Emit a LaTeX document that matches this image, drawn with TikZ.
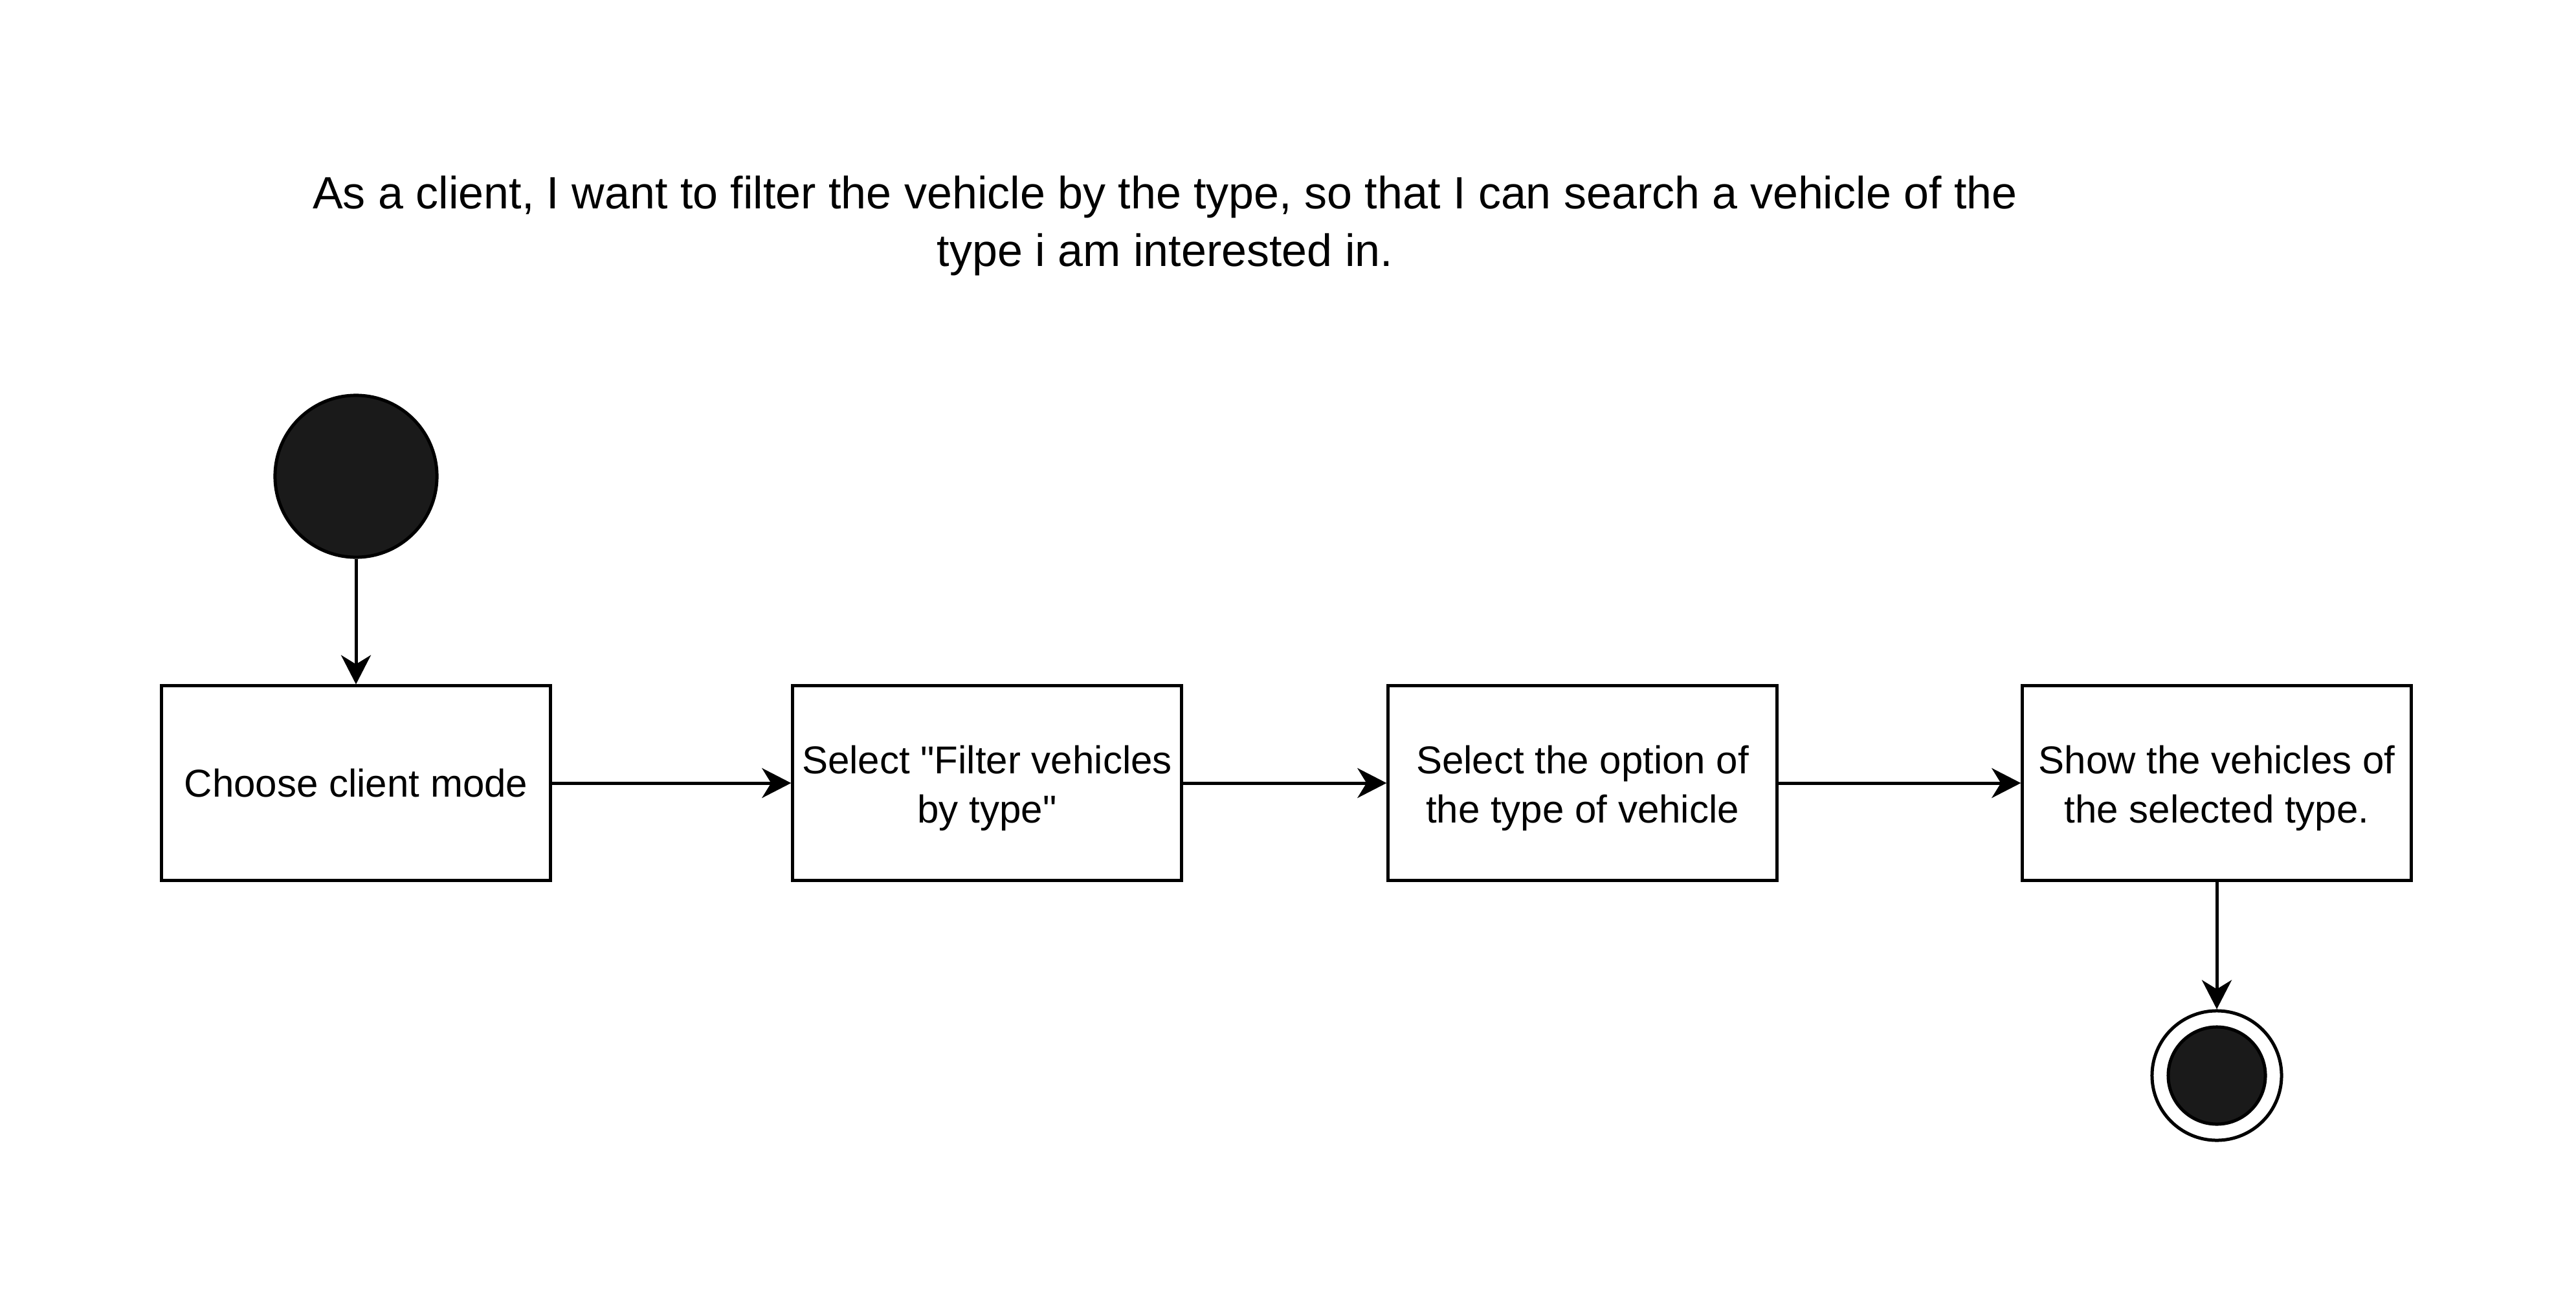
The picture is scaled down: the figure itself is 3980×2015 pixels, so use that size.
\documentclass[tikz,border=0pt]{standalone}
\usepackage{fontspec}
\setmainfont{Liberation Sans}
\usetikzlibrary{arrows.meta}
\definecolor{dotfill}{HTML}{1A1A1A}
\begin{document}
\begin{tikzpicture}[x=0.01cm,y=-0.01cm,
  actbox/.style={draw=black, line width=0.05cm, fill=white, minimum width=6cm, minimum height=3cm, inner sep=0pt, align=center, font=\fontsize{17.07}{21.6}\selectfont},
  boxtext/.style={inner sep=0pt, align=center, font=\fontsize{17.07}{21.6}\selectfont},
  arr/.style={line width=0.05cm, -{Stealth[length=0.45cm, width=0.46cm, inset=0.14cm]}},
  titletext/.style={align=center, font=\fontsize{19.9}{25.3}\selectfont}]
\useasboundingbox (0,0) rectangle (3980,2015);
\fill[white] (0,0) rectangle (3980,2015);
\node[titletext] (title) at (1800,349) {As a client, I want to filter the vehicle by the type, so that I can search a vehicle of the\\type i am interested in.};
\node[circle, draw=black, line width=0.05cm, fill=dotfill, minimum size=2.5cm, inner sep=0pt] (start) at (550,736) {};
\node[actbox] (b1) at (550,1210) {Choose client mode};
\node[actbox] (b2) at (1525,1210) {};
\node[actbox] (b3) at (2445,1210) {};
\node[actbox] (b4) at (3425,1210) {};
\node[boxtext] (t2) at ([yshift=-0.075cm]b2.center) {Select \textquotedbl Filter vehicles\\by type\textquotedbl};
\node[boxtext] (t3) at ([yshift=-0.075cm]b3.center) {Select the option of\\the type of vehicle};
\node[boxtext] (t4) at ([yshift=-0.075cm]b4.center) {Show the vehicles of\\the selected type.};
\node[circle, draw=black, line width=0.05cm, fill=white, minimum size=2cm, inner sep=0pt] (end) at (3425,1662) {};
\node[circle, draw=black, line width=0.05cm, fill=dotfill, minimum size=1.5cm, inner sep=0pt] (endin) at (end.center) {};
\draw[arr] (start.south) -- (b1.north);
\draw[arr] (b1.east) -- (b2.west);
\draw[arr] (b2.east) -- (b3.west);
\draw[arr] (b3.east) -- (b4.west);
\draw[arr] (b4.south) -- (end.north);
\end{tikzpicture}
\end{document}
